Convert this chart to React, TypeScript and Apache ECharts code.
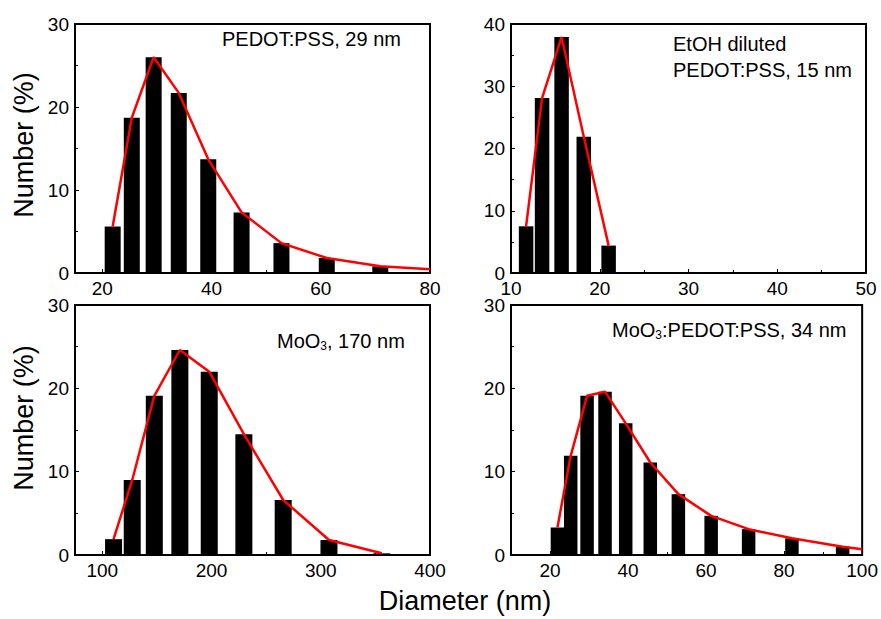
import React, { useEffect, useRef } from "react";
import * as echarts from "echarts";

// Panel 1: PEDOT:PSS, 29 nm
const pedotX = [21.9, 25.4, 29.4, 34.0, 39.4, 45.5, 52.8, 61.1, 70.9];
const pedotY = [5.6, 18.7, 26.0, 21.7, 13.7, 7.3, 3.6, 1.8, 0.8];
const pedotFitTail = [[80, 0.45]];

// Panel 2: EtOH diluted PEDOT:PSS, 15 nm
const etohX = [11.7, 13.5, 15.7, 18.2, 21.0];
const etohY = [7.5, 28.1, 37.9, 21.9, 4.4];

// Panel 3: MoO3, 170 nm
const mooX = [110.3, 127.4, 147.6, 171.0, 197.9, 229.6, 265.6, 307.5, 355.8];
const mooY = [1.9, 9.0, 19.1, 24.6, 22.0, 14.5, 6.6, 1.8, 0.2];

// Panel 4: MoO3:PEDOT:PSS, 34 nm
const mixX = [21.9, 25.3, 29.5, 34.1, 39.4, 45.7, 52.9, 61.3, 70.9, 82.0, 95.0];
const mixY = [3.3, 11.9, 19.1, 19.6, 15.8, 11.1, 7.3, 4.7, 3.1, 2.0, 1.0];
const mixFitTail = [[100, 0.7]];

// Axis ranges and ticks
const xRanges = [
  [15, 80],
  [10, 50],
  [75, 400],
  [10, 100],
];
const xMajorTicks = [
  [20, 40, 60, 80],
  [10, 20, 30, 40, 50],
  [100, 200, 300, 400],
  [20, 40, 60, 80, 100],
];
const xMinorTicks = [
  [30, 50, 70],
  [15, 25, 35, 45],
  [150, 250, 350],
  [10, 30, 50, 70, 90],
];
const yMax = [30, 40, 30, 30];

const FONT = "'Liberation Sans', Arial, Helvetica, sans-serif";

export default function App() {
  const ref = useRef<HTMLDivElement>(null);

  useEffect(() => {
    if (!ref.current) return;
    const chart = echarts.init(ref.current, undefined, { renderer: "svg" });

    const grids = [
      { left: 75, top: 24, width: 355, height: 249 },
      { left: 511, top: 24, width: 355, height: 249 },
      { left: 75, top: 305, width: 355, height: 250 },
      { left: 511, top: 305, width: 355, height: 250 },
    ].map((g) => ({
      ...g,
      show: true,
      borderColor: "#000",
      borderWidth: 2,
      backgroundColor: "transparent",
    }));

    const xAxes: any[] = [];
    for (let i = 0; i < 4; i++) {
      xAxes.push({
        type: "value",
        gridIndex: i,
        min: xRanges[i][0],
        max: xRanges[i][1],
        position: "bottom",
        axisLine: { show: true, lineStyle: { color: "#000", width: 2 } },
        axisTick: {
          show: true,
          inside: true,
          length: 4,
          lineStyle: { color: "#000", width: 1 },
          customValues: xMajorTicks[i],
        },
        axisLabel: {
          show: true,
          color: "#000",
          fontSize: 19,
          fontFamily: FONT,
          margin: 6,
          customValues: xMajorTicks[i],
        },
        splitLine: { show: false },
      });
    }
    for (let i = 0; i < 4; i++) {
      xAxes.push({
        type: "value",
        gridIndex: i,
        min: xRanges[i][0],
        max: xRanges[i][1],
        position: "bottom",
        axisLine: { show: false },
        axisTick: {
          show: true,
          inside: true,
          length: 3,
          lineStyle: { color: "#000", width: 1 },
          customValues: xMinorTicks[i],
        },
        axisLabel: { show: false },
        splitLine: { show: false },
      });
    }

    const yAxes = yMax.map((m, i) => ({
      type: "value",
      gridIndex: i,
      min: 0,
      max: m,
      interval: 10,
      axisLine: { show: true, lineStyle: { color: "#000", width: 2 } },
      axisTick: { show: true, inside: true, length: 4, lineStyle: { color: "#000", width: 1 } },
      minorTick: { show: true, splitNumber: 2, length: 3, lineStyle: { color: "#000", width: 1 } },
      axisLabel: { color: "#000", fontSize: 19, fontFamily: FONT, margin: 6 },
      splitLine: { show: false },
    }));

    const pair = (xs: number[], ys: number[]) => xs.map((x, k) => [x, ys[k]]);
    const barW = [16, 14.5, 17, 13.5];
    const sets = [
      { bars: pair(pedotX, pedotY), fit: [...pair(pedotX, pedotY), ...pedotFitTail] },
      { bars: pair(etohX, etohY), fit: pair(etohX, etohY) },
      { bars: pair(mooX, mooY), fit: pair(mooX, mooY) },
      { bars: pair(mixX, mixY), fit: [...pair(mixX, mixY), ...mixFitTail] },
    ];

    const series: any[] = [];
    sets.forEach((s, i) => {
      series.push({
        type: "bar",
        xAxisIndex: i,
        yAxisIndex: i,
        data: s.bars,
        barWidth: barW[i],
        itemStyle: { color: "#000" },
        z: 2,
      });
      series.push({
        type: "line",
        xAxisIndex: i,
        yAxisIndex: i,
        data: s.fit,
        showSymbol: false,
        symbol: "none",
        lineStyle: { color: "#ff0000", width: 2.5 },
        z: 3,
        clip: true,
      });
    });

    const textStyle = (text: string, extra: any = {}) => ({
      text,
      fill: "#000",
      font: `20px ${FONT}`,
      ...extra,
    });

    const rich = {
      n: { fontSize: 20, fontFamily: FONT, fill: "#000", color: "#000" },
      s: { fontSize: 12, fontFamily: FONT, fill: "#000", color: "#000", padding: [11, 0, 0, 0] },
    };

    const bigText = (text: string, x: number, y: number, rot: number) => ({
      type: "text",
      x,
      y,
      rotation: rot,
      style: {
        text,
        fill: "#000",
        font: `27px ${FONT}`,
        align: "center",
        verticalAlign: "middle",
      },
    });

    chart.setOption({
      animation: false,
      grid: grids,
      xAxis: xAxes,
      yAxis: yAxes,
      series,
      graphic: [
        {
          type: "text",
          x: 222,
          y: 39,
          style: textStyle("PEDOT:PSS, 29 nm", { verticalAlign: "middle" }),
        },
        {
          type: "text",
          x: 673,
          y: 44,
          style: textStyle("EtOH diluted", { verticalAlign: "middle" }),
        },
        {
          type: "text",
          x: 673,
          y: 70,
          style: textStyle("PEDOT:PSS, 15 nm", { verticalAlign: "middle" }),
        },
        {
          type: "text",
          x: 277,
          y: 329,
          style: {
            text: "{n|MoO}{s|3}{n|, 170 nm}",
            rich,
            verticalAlign: "top",
          },
        },
        {
          type: "text",
          x: 612,
          y: 318,
          style: {
            text: "{n|MoO}{s|3}{n|:PEDOT:PSS, 34 nm}",
            rich,
            verticalAlign: "top",
          },
        },
        bigText("Number (%)", 24, 145, Math.PI / 2),
        bigText("Number (%)", 24, 418, Math.PI / 2),
        bigText("Diameter (nm)", 465, 601, 0),
      ],
    });

    return () => chart.dispose();
  }, []);

  return (
    <div
      ref={ref}
      style={{ position: "fixed", left: 0, top: 0, width: 881, height: 619, background: "#fff" }}
    />
  );
}
